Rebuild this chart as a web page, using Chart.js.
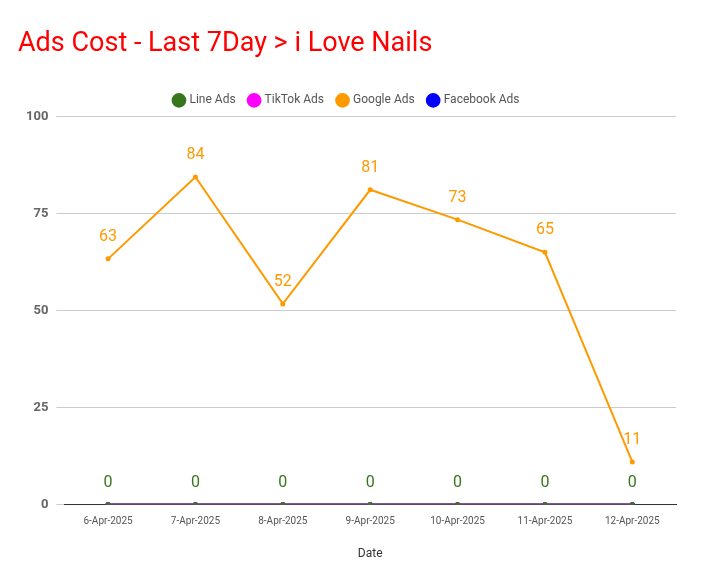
<!DOCTYPE html>
<html><head><meta charset="utf-8">
<script src="https://cdn.jsdelivr.net/npm/chart.js@4"></script>
<style>body{margin:0;background:#fff}#wrap{width:704px;height:585px}</style>
</head><body><div id="wrap"><canvas id="c"></canvas></div>
<script>
var dates = ['6-Apr-2025','7-Apr-2025','8-Apr-2025','9-Apr-2025','10-Apr-2025','11-Apr-2025','12-Apr-2025'];
var facebookAds = [0,0,0,0,0,0,0];
var googleAds = [63.3,84.4,51.7,81.1,73.4,65,11];
var tiktokAds = [0,0,0,0,0,0,0];
var lineAds = [0,0,0,0,0,0,0];
var yTicks = [0,25,50,75,100];

// value labels above each point
var valueLabels = {
  afterDatasetsDraw: function(chart) {
    var ctx = chart.ctx;
    ctx.save();
    ctx.font = '16px Roboto';
    ctx.textAlign = 'center';
    ctx.textBaseline = 'bottom';
    chart.data.datasets.forEach(function(ds, i) {
      if (!ds.showLabels) return;
      chart.getDatasetMeta(i).data.forEach(function(pt, j) {
        ctx.fillStyle = ds.borderColor;
        ctx.fillText(Math.round(ds.data[j]), pt.x, pt.y - 14);
      });
    });
    ctx.restore();
  }
};

function ds(label, data, color, labels, order) {
  return { label: label, data: data, borderColor: color, backgroundColor: color, order: order,
    borderWidth: 2, pointRadius: 1.5, pointHoverRadius: 3, tension: 0, showLabels: labels };
}

new Chart(document.getElementById('c'), {
  type: 'line',
  data: { labels: dates, datasets: [
    ds('Facebook Ads', facebookAds, '#0000ff', false, 4),
    ds('Google Ads', googleAds, '#ff9900', true, 3),
    ds('TikTok Ads', tiktokAds, '#ff00ff', false, 2),
    ds('Line Ads', lineAds, '#38761d', true, 1)
  ]},
  options: {
    responsive: true, maintainAspectRatio: false, animation: false,
    layout: { padding: { left: 18, right: 28, top: 10, bottom: 20 } },
    plugins: {
      title: { display: true, text: 'Ads Cost - Last 7Day > i Love Nails', align: 'start',
        color: '#ff0000', font: { family: 'Roboto', size: 27, weight: 'normal' }, padding: { top: 18, bottom: 20 } },
      legend: { labels: { usePointStyle: true, pointStyle: 'circle', boxWidth: 9, boxHeight: 9,
        color: '#555', font: { family: 'Roboto', size: 12 }, padding: 14 } },
      tooltip: { enabled: false }
    },
    scales: {
      x: { offset: true, grid: { display: false }, border: { color: '#333' },
        ticks: { color: '#555', font: { family: 'Roboto', size: 10 }, maxRotation: 0 },
        title: { display: true, text: 'Date', color: '#333', font: { family: 'Roboto', size: 12 }, padding: { top: 16 } } },
      y: { min: 0, max: 100, afterBuildTicks: function(a){ a.ticks = yTicks.map(function(v){return {value:v};}); },
        grid: { color: '#ccc' }, border: { display: false },
        ticks: { color: '#666', padding: 8, font: { family: 'Roboto', size: 13, weight: 'bold' } } }
    }
  },
  plugins: [valueLabels]
});
</script></body></html>
